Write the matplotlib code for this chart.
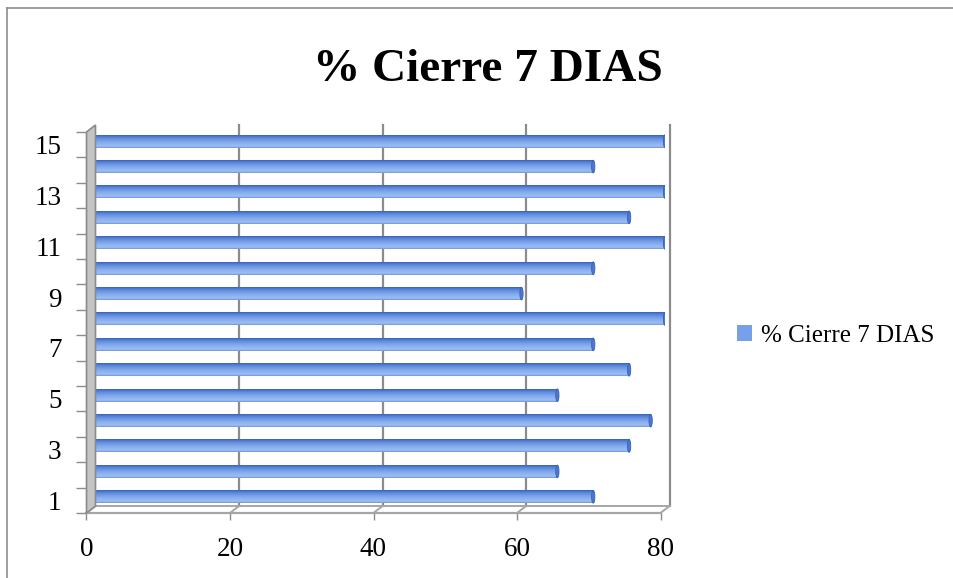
import numpy as np
import matplotlib
matplotlib.use("Agg")
import matplotlib.pyplot as plt
from matplotlib.colors import LinearSegmentedColormap
from matplotlib.patches import Ellipse, Polygon, ConnectionPatch
from matplotlib.transforms import offset_copy, IdentityTransform
from matplotlib.lines import Line2D

# % cierre a 7 dias, por dia 1..15
dias = list(range(1, 16))
cierre = [70, 65, 75, 78, 65, 75, 70, 80, 60, 70, 80, 75, 80, 70, 80]
x_ticks = [0, 20, 40, 60, 80]
y_labels = [1, 3, 5, 7, 9, 11, 13, 15]
serie = "% Cierre 7 DIAS"

plt.rcParams['font.family'] = ['Liberation Serif', 'DejaVu Serif']

W, H = 954, 578
fig = plt.figure(figsize=(W / 100, H / 100), dpi=100)
fig.patch.set_facecolor('white')

# middle plane of the fake 3d box (bars live here)
ax = fig.add_axes([91 / W, 1 - 509.5 / H, 574 / W, 381 / H])
ax.set_xlim(0, 80)
ax.set_ylim(0.5, 15.5)
ax.axis('off')

# depth: back plane is up/right, front plane is down/left
back = offset_copy(ax.transData, fig=fig, x=4.5, y=3.5, units='dots')
front = offset_copy(ax.transData, fig=fig, x=-4.5, y=-3.5, units='dots')
grey = '#8c8c8c'

# back wall grid lines
for t in x_ticks[1:]:
    ax.plot([t, t], [0.5, 15.5], color=grey, lw=1.6, transform=back, zorder=1, clip_on=False)

# floor
ax.plot([0, 80], [0.5, 0.5], color='#a6a6a6', lw=1.4, transform=back, zorder=1, clip_on=False)
ax.plot([0, 80], [0.5, 0.5], color='#a6a6a6', lw=1.6, transform=front, zorder=1, clip_on=False)
for t in x_ticks:
    cp = ConnectionPatch((t, 0.5), (t, 0.5), coordsA=front, coordsB=back,
                         color='#a6a6a6', lw=1.4, zorder=1)
    fig.add_artist(cp)

# left side wall
pts = np.vstack([front.transform([(0, 0.5), (0, 15.5)]),
                 back.transform([(0, 15.5), (0, 0.5)])])
wall = Polygon(pts, closed=True, facecolor='#c4c4c4', edgecolor='#8a8a8a',
               lw=1.2, transform=IdentityTransform(), zorder=1)
fig.add_artist(wall)

# cylinder-like bars
cmap = LinearSegmentedColormap.from_list('cyl', [
    (0.0, '#6b94db'), (0.12, '#9dbef3'), (0.4, '#8aafee'),
    (0.7, '#6893e3'), (0.9, '#4b79cf'), (1.0, '#3760b2')])
grad = np.linspace(0, 1, 64).reshape(-1, 1)
h = 0.5
bars = ax.barh(dias, cierre, height=h, color='#76a0e8', zorder=2, label=serie)
for d, v in zip(dias, cierre):
    ax.imshow(grad, extent=[0, v, d + h / 2, d - h / 2], cmap=cmap,
              aspect='auto', interpolation='bilinear', zorder=3)
    ax.add_patch(Ellipse((v, d), width=0.45, height=h, facecolor='#4b79cf',
                         edgecolor='#3760b2', lw=0.6, zorder=4))
ax.set_xlim(0, 80)
ax.set_ylim(0.5, 15.5)

# front axis with ticks and labels
axf = fig.add_axes([(91 - 4.5) / W, 1 - 513 / H, 574 / W, 381 / H])
axf.set_xlim(0, 80)
axf.set_ylim(0.5, 15.5)
axf.patch.set_alpha(0)
for s in axf.spines.values():
    s.set_visible(False)
axf.set_xticks(x_ticks)
axf.set_xticklabels([str(t) for t in x_ticks])
axf.tick_params(axis='x', direction='out', length=5, width=1, color=grey,
                pad=12, labelsize=19.5)
axf.set_yticks(np.arange(0.5, 16, 1))
axf.set_yticklabels([])
axf.set_yticks(y_labels, minor=True)
axf.set_yticklabels([str(v) for v in y_labels], minor=True)
axf.tick_params(axis='y', which='major', direction='out', length=7, width=1, color=grey)
axf.tick_params(axis='y', which='minor', length=0, pad=18, labelsize=19.5)

# title and legend
fig.text(488 / W, 1 - 81 / H, serie, ha='center', va='baseline',
         fontsize=34, fontweight='bold')
fig.legend(handles=[bars], labels=[serie], loc='center left',
           bbox_to_anchor=(737 / W, 1 - 336 / H), frameon=False, fontsize=18,
           handlelength=0.6, handleheight=0.6, handletextpad=0.35,
           borderpad=0, borderaxespad=0)

# outer chart border (left and top)
fig.add_artist(Line2D([7.5 / W, 7.5 / W], [0, 1 - 7.5 / H], color=grey, lw=1.2,
                      transform=fig.transFigure))
fig.add_artist(Line2D([7.5 / W, 1], [1 - 7.5 / H, 1 - 7.5 / H], color=grey, lw=1.2,
                      transform=fig.transFigure))

fig.savefig('out.png', dpi=100)
